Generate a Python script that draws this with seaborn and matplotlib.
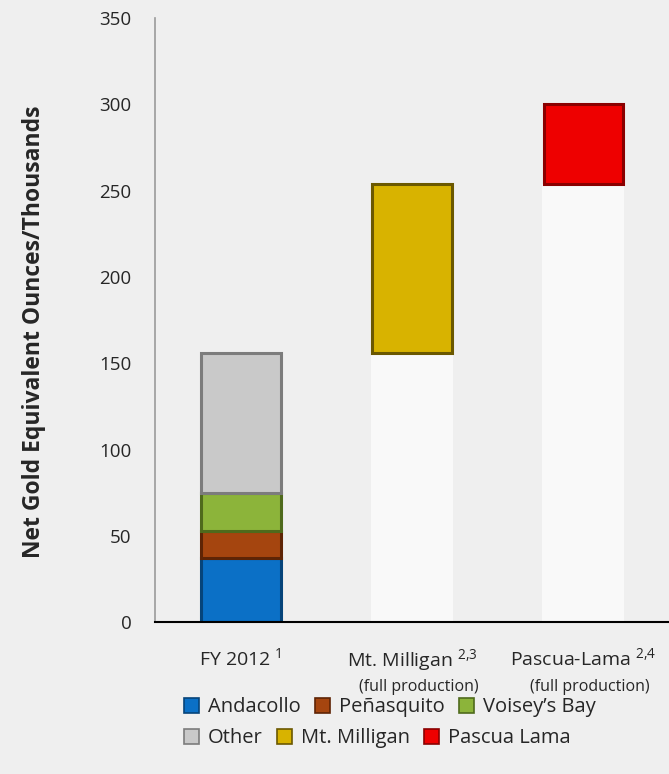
import pandas as pd
import seaborn as sns
import matplotlib.pyplot as plt
from matplotlib.patches import Patch
import matplotlib.transforms as mtransforms

# Données (milliers d'onces équivalent or)
categories = ["FY 2012", "Mt. Milligan", "Pascua-Lama"]
tick_labels = ["FY 2012 $^{1}$", "Mt. Milligan $^{2{,}3}$", "Pascua-Lama $^{2{,}4}$"]
sub_labels = ["", "(full production)", "(full production)"]

andacollo = [37, 0, 0]
penasquito = [16, 0, 0]
voiseys_bay = [22, 0, 0]
other = [81, 0, 0]
mt_milligan = [0, 98, 0]
pascua_lama = [0, 0, 46]

series_names = ["Andacollo", "Peñasquito", "Voisey\u2019s Bay", "Other", "Mt. Milligan", "Pascua Lama"]
series_vals = [andacollo, penasquito, voiseys_bay, other, mt_milligan, pascua_lama]
colors = ["#0b70c6", "#a5450f", "#8cb43a", "#c9c9c9", "#d8b300", "#ee0000"]
edges = ["#06447a", "#5e2405", "#4f6a1c", "#7c7c7c", "#6b5800", "#8a0000"]

# base invisible du waterfall = total cumulé avant chaque barre
totals = [sum(v[i] for v in series_vals) for i in range(len(categories))]
base = [0, totals[0], totals[0] + totals[1]]

rows = []
for name, vals in zip(series_names, series_vals):
    for cat, v in zip(categories, vals):
        rows.append({"Categorie": cat, "Serie": name, "Valeur": v})
df = pd.DataFrame(rows)

sns.set_theme(style="white")
plt.rcParams["font.family"] = ["Open Sans", "DejaVu Sans"]
plt.rcParams["mathtext.fontset"] = "custom"
plt.rcParams["mathtext.rm"] = "Open Sans"
plt.rcParams["mathtext.it"] = "Open Sans"
plt.rcParams["mathtext.default"] = "regular"

fig = plt.figure(figsize=(6.69, 7.74), dpi=100)
fig.patch.set_facecolor("#efefef")
ax = fig.add_axes([0.232, 0.196, 0.768, 0.781])
ax.set_facecolor("#efefef")

# barres de base (quasi invisibles)
sns.barplot(x=categories, y=base, order=categories, color="#f9f9f9",
            width=0.48, ax=ax, linewidth=0, saturation=1)

bottoms = list(base)
for name, col, ec in zip(series_names, colors, edges):
    sub = df[df["Serie"] == name].set_index("Categorie").loc[categories]
    vals = sub["Valeur"].tolist()
    sns.barplot(x=categories, y=vals, order=categories, bottom=bottoms,
                color=col, edgecolor=ec, linewidth=2.2, width=0.465,
                saturation=1, ax=ax)
    bottoms = [b + v for b, v in zip(bottoms, vals)]

# les barres à valeur nulle ne doivent rien dessiner
for p in ax.patches:
    if p.get_height() == 0:
        p.set_visible(False)

ax.set_xlim(-0.5, 2.5)
ax.set_ylim(0, 350)
ax.set_yticks(range(0, 351, 50))
ax.tick_params(axis="y", length=0, labelsize=13.5, pad=17)
ax.tick_params(axis="x", length=0, labelsize=14, pad=18)
ax.set_xticks(range(len(categories)))
ax.set_xticklabels(tick_labels)

trans = mtransforms.blended_transform_factory(ax.transData, ax.transAxes)
for i, s in enumerate(sub_labels):
    if s:
        ax.text(i + 0.04, -0.107, s, transform=trans, ha="center", va="center", fontsize=11.5)

ax.set_ylabel("Net Gold Equivalent Ounces/Thousands", fontsize=16.5, fontweight="bold")
ax.yaxis.set_label_coords(-0.213, 0.48)
ax.set_xlabel("")

for side in ["top", "right"]:
    ax.spines[side].set_visible(False)
ax.spines["left"].set_color("#9a9a9a")
ax.spines["left"].set_linewidth(1.2)
ax.spines["bottom"].set_color("black")
ax.spines["bottom"].set_linewidth(1.5)

handles = [Patch(facecolor=c, edgecolor=e, linewidth=1.2) for c, e in zip(colors, edges)]
leg_kw = dict(ncol=3, loc="center left", frameon=False, fontsize=14.5,
              handlelength=0.75, handleheight=0.75, handletextpad=0.45,
              columnspacing=0.7, borderpad=0, borderaxespad=0)
fig.legend(handles[:3], series_names[:3], bbox_to_anchor=(0.275, 0.086), **leg_kw)
fig.legend(handles[3:], series_names[3:], bbox_to_anchor=(0.275, 0.046), **leg_kw)

plt.savefig("out.png", dpi=100, facecolor=fig.get_facecolor())
